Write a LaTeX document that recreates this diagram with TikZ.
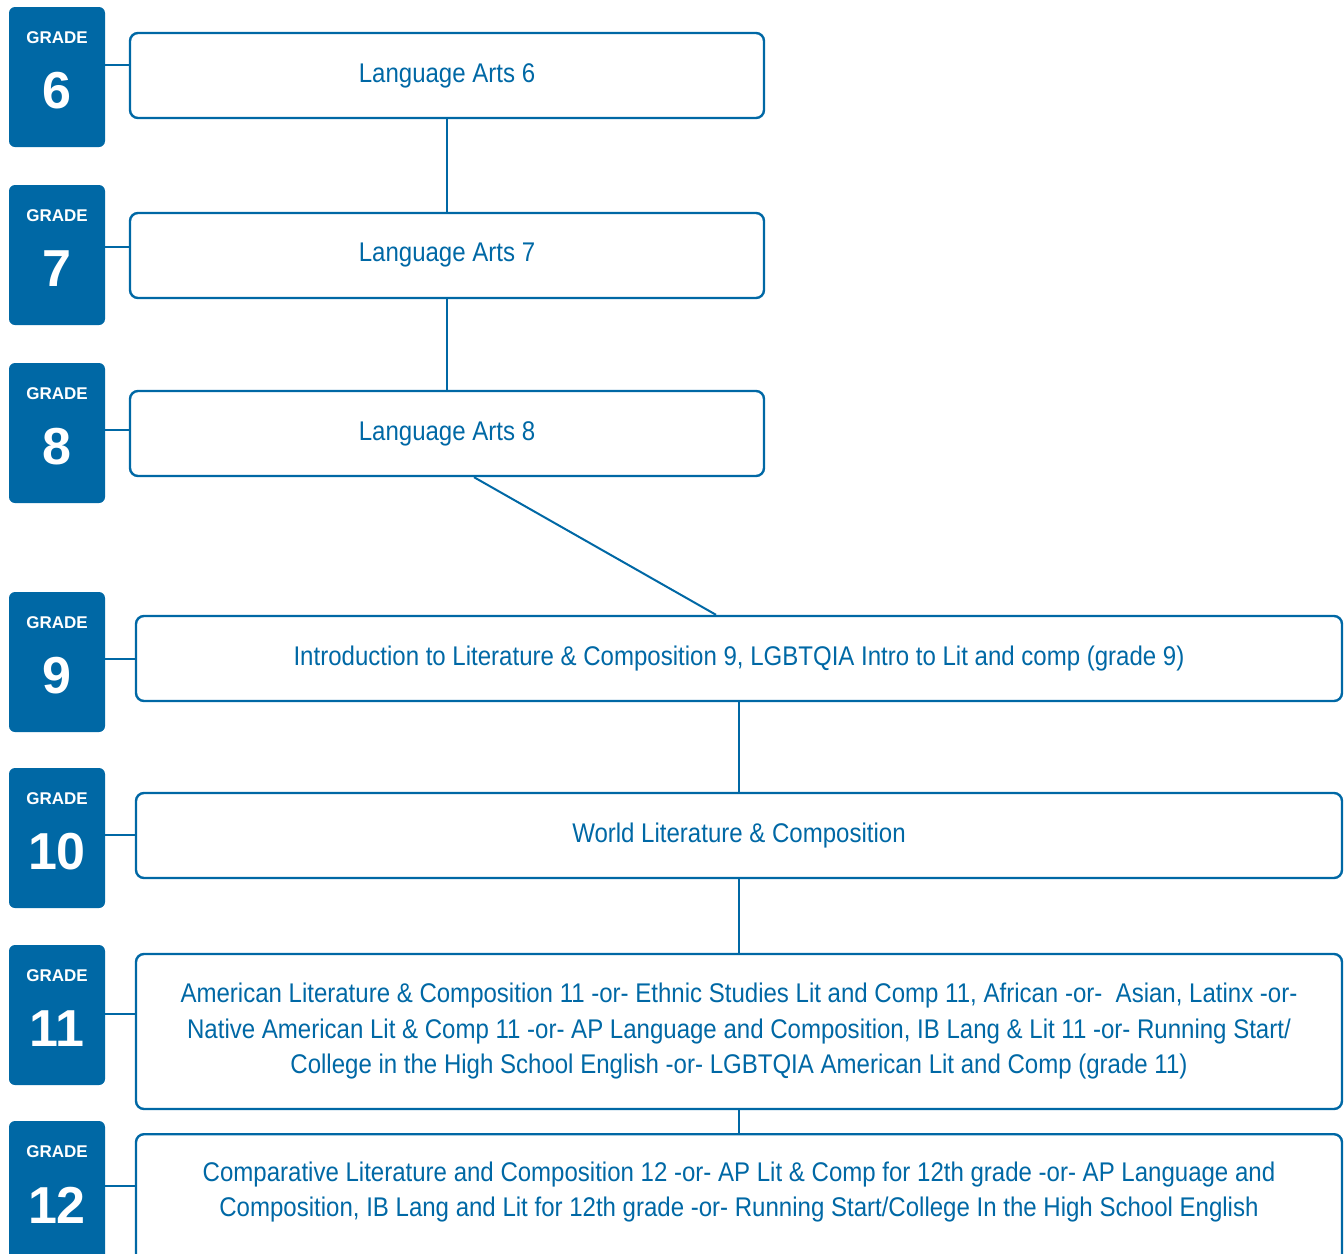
\documentclass[tikz,border=0pt]{standalone}
\usepackage{fontspec}
\setmainfont{Liberation Sans}
\newfontfamily\narrowfont[FakeStretch=0.89]{Liberation Sans}
\usetikzlibrary{positioning,calc}
\definecolor{gblue}{RGB}{0,104,165}
\tikzset{
 badge/.style={fill=gblue, rounded corners=6pt, minimum width=96pt, minimum height=140pt, inner sep=0pt},
 gradetxt/.style={text=white, font=\bfseries\fontsize{17}{20}\selectfont, inner sep=0pt},
 gradenum/.style={text=white, font=\bfseries\fontsize{52}{60}\selectfont, inner sep=0pt},
 course/.style={draw=gblue, line width=2.4pt, rounded corners=8pt, minimum height=85pt, inner sep=0pt,
   text=gblue, align=center, font=\narrowfont\fontsize{27}{35.5}\selectfont},
 link/.style={gblue, line width=2pt}
}
\begin{document}
\begin{tikzpicture}[x=1pt,y=-1pt]
\useasboundingbox (0,0) rectangle (1344,1253);
% grade badges
\foreach \g/\y in {6/77,7/255,8/433,9/662,10/838,11/1015,12/1191}{
 \node[badge] (g\g) at (57,\y) {};
 \node[gradetxt] at ([yshift=-30.5pt]g\g.north) {GRADE};
 \node[gradenum] at ([yshift=-14pt]g\g.center) {\g};
}
% courses
\node[course, minimum width=634pt] (la6) at (447,75.5) {Language Arts 6};
\node[course, minimum width=634pt] (la7) at (447,255.5) {Language Arts 7};
\node[course, minimum width=634pt] (la8) at (447,433.5) {Language Arts 8};
\node[course, minimum width=1206pt] (c9) at (739,658.5) {Introduction to Literature \& Composition 9, LGBTQIA Intro to Lit and comp (grade 9)};
\node[course, minimum width=1206pt] (c10) at (739,835.5) {World Literature \& Composition};
\node[course, minimum width=1206pt, minimum height=155pt] (c11) at (739,1031.5) {American Literature \& Composition 11 -or- Ethnic Studies Lit and Comp 11, African -or-\ \ Asian, Latinx -or-\\Native American Lit \& Comp 11 -or- AP Language and Composition, IB Lang \& Lit 11 -or- Running Start/\\College in the High School English -or- LGBTQIA American Lit and Comp (grade 11)};
\node[course, minimum width=1206pt, minimum height=160pt, anchor=north] (c12) at (739,1133) {};
\node[course, draw=none] (c12t) at ([yshift=-59pt]c12.north) {Comparative Literature and Composition 12 -or- AP Lit \& Comp for 12th grade -or- AP Language and\\Composition, IB Lang and Lit for 12th grade -or- Running Start/College In the High School English};
% links
\draw[link] ([yshift=12pt]g6.east) -- ([yshift=12pt]g6.east -| la6.west);
\draw[link] ([yshift=8pt]g7.east) -- ([yshift=8pt]g7.east -| la7.west);
\draw[link] ([yshift=3pt]g8.east) -- ([yshift=3pt]g8.east -| la8.west);
\draw[link] ([yshift=3pt]g9.east) -- ([yshift=3pt]g9.east -| c9.west);
\draw[link] ([yshift=3pt]g10.east) -- ([yshift=3pt]g10.east -| c10.west);
\draw[link] ([yshift=1pt]g11.east) -- ([yshift=1pt]g11.east -| c11.west);
\draw[link] ([yshift=5pt]g12.east) -- ([yshift=5pt]g12.east -| c12.west);
\draw[link] (la6) -- (la7);
\draw[link] (la7) -- (la8);
\draw[link] ([xshift=27pt]la8.south) -- ([xshift=-23pt]c9.north);
\draw[link] (c9) -- (c10);
\draw[link] (c10) -- (c11);
\draw[link] (c11) -- (c12);
\end{tikzpicture}
\end{document}
